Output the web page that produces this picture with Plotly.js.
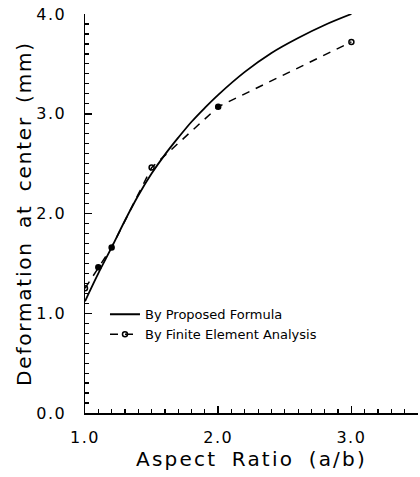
<!DOCTYPE html>
<html>
<head>
<meta charset="utf-8">
<script src="https://cdn.plot.ly/plotly-3.0.1.min.js"></script>
<style>
html,body{margin:0;padding:0;background:#fff;}
#chart{width:420px;height:477px;}
#chart .xtitle {letter-spacing: 2.2px; word-spacing: 6px;}
#chart .ytitle {letter-spacing: 1.8px; word-spacing: 5px;}
#chart .xtick text, #chart .ytick text {letter-spacing: 1.5px;}
</style>
</head>
<body>
<div id="chart"></div>
<script>
// Proposed formula curve
const formulaX = [1.0, 1.1, 1.2, 1.3, 1.4, 1.5, 1.6, 1.7, 1.8, 1.9, 2.0, 2.2, 2.4, 2.6, 2.8, 3.0];
const formulaY = [1.12, 1.40, 1.66, 1.93, 2.18, 2.40, 2.59, 2.76, 2.92, 3.06, 3.19, 3.42, 3.61, 3.76, 3.89, 4.00];
// Finite element analysis points
const feX = [1.0, 1.1, 1.2, 1.5, 2.0, 3.0];
const feY = [1.25, 1.46, 1.66, 2.46, 3.07, 3.72];
const feSymbols = ['circle-open', 'circle', 'circle', 'circle-open', 'circle', 'circle-open'];
// Labels
const seriesNames = ['By Proposed Formula', 'By Finite Element Analysis'];
const xTitle = 'Aspect Ratio (a/b)';
const yTitle = 'Deformation at center (mm)';
const xTickVals = [1, 2, 3];
const xTickText = ['1.0', '2.0', '3.0'];
const yTickVals = [0, 1, 2, 3, 4];
const yTickText = ['0.0', '1.0', '2.0', '3.0', '4.0'];

const font = 'DejaVu Sans, Liberation Sans, sans-serif';

const traces = [
  {
    x: formulaX, y: formulaY, name: seriesNames[0], mode: 'lines', type: 'scatter',
    line: {color: '#000', width: 1.8, shape: 'spline', smoothing: 1}
  },
  {
    x: feX, y: feY, name: seriesNames[1], mode: 'lines+markers', type: 'scatter',
    line: {color: '#000', width: 1.5, dash: '8px,7px'},
    marker: {color: '#000', size: 5, symbol: feSymbols, line: {color: '#000', width: 1.5}}
  }
];

const layout = {
  width: 420, height: 477,
  margin: {l: 85, r: 2, t: 14, b: 64},
  paper_bgcolor: '#fff', plot_bgcolor: '#fff',
  showlegend: true,
  legend: {
    x: 0.06, y: 0.285, xanchor: 'left', yanchor: 'top',
    bgcolor: 'rgba(0,0,0,0)', borderwidth: 0,
    font: {family: font, size: 13, color: '#000'},
    itemwidth: 30, tracegroupgap: 0
  },
  xaxis: {
    range: [1.0, 3.5], showgrid: false, zeroline: false,
    showline: true, linecolor: '#000', linewidth: 1.5,
    tickmode: 'array', tickvals: xTickVals, ticktext: xTickText,
    ticks: 'inside', ticklen: 7, tickwidth: 1.5, tickcolor: '#000',
    minor: {dtick: 0.1, ticks: 'inside', ticklen: 4, tickwidth: 1.2, tickcolor: '#000', showgrid: false},
    tickfont: {family: font, size: 16, color: '#000'},
    ticklabelstandoff: 9,
    title: {text: xTitle, font: {family: font, size: 20, color: '#000'}, standoff: 0}
  },
  yaxis: {
    range: [0, 4.0], showgrid: false, zeroline: false,
    showline: true, linecolor: '#000', linewidth: 1.5,
    tickmode: 'array', tickvals: yTickVals, ticktext: yTickText,
    ticks: 'inside', ticklen: 7, tickwidth: 1.5, tickcolor: '#000',
    minor: {dtick: 0.1, ticks: 'inside', ticklen: 4, tickwidth: 1.2, tickcolor: '#000', showgrid: false},
    tickfont: {family: font, size: 16, color: '#000'},
    ticklabelstandoff: 14,
    title: {text: yTitle, font: {family: font, size: 20, color: '#000'}, standoff: 4}
  }
};

Plotly.newPlot('chart', traces, layout, {staticPlot: true, displayModeBar: false});
</script>
</body>
</html>
